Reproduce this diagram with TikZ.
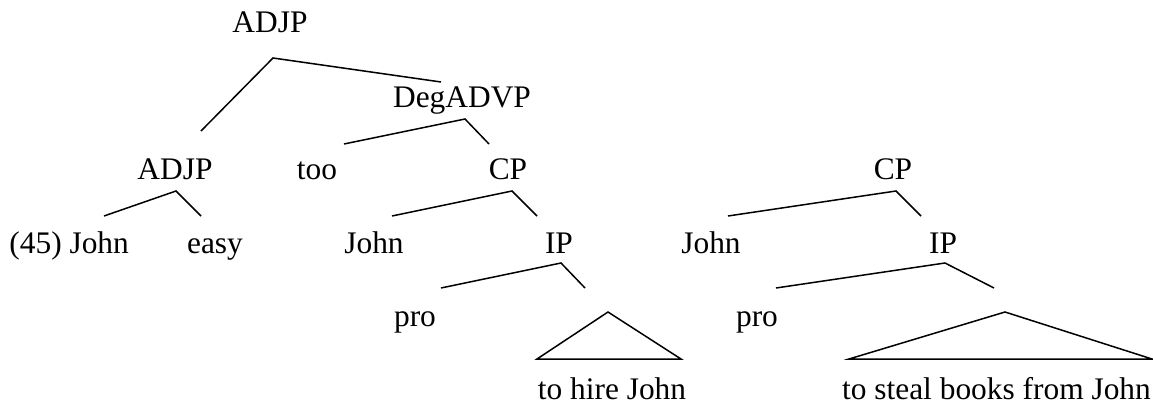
\documentclass[tikz,border=0pt]{standalone}
\usepackage{fontspec}
\setmainfont{Liberation Serif}
\begin{document}
\begin{tikzpicture}[x=0.5pt,y=-0.5pt,
  lbl/.style={anchor=base,inner sep=0pt,font=\fontsize{15.7}{18}\selectfont},
  branch/.style={line width=0.75pt,line join=miter,line cap=butt}]
\useasboundingbox (0,0) rectangle (1153,402);

% category labels and words
\node[lbl] (adjp)    at (270,32)  {ADJP};
\node[lbl] (degadvp) at (462,107) {DegADVP};
\node[lbl] (adjpb)   at (175,179) {ADJP};
\node[lbl] (too)     at (317,179) {too};
\node[lbl] (cpa)     at (508,179) {CP};
\node[lbl] (cpb)     at (893,179) {CP};
\node[lbl,anchor=base west] (exjohn) at (9,253) {(45) John};
\node[lbl] (easy)    at (215,253) {easy};
\node[lbl] (johna)   at (374,253) {John};
\node[lbl] (ipa)     at (559,253) {IP};
\node[lbl] (johnb)   at (711,253) {John};
\node[lbl] (ipb)     at (943,253) {IP};
\node[lbl] (proa)    at (415,326) {pro};
\node[lbl] (prob)    at (757,326) {pro};
\node[lbl] (hire)    at (612,399) {to hire John};
\node[lbl] (steal)   at (996.5,399) {to steal books from John};

% branch points
\coordinate (adjp-t) at (273,58);  \coordinate (adjp-l) at (201,131); \coordinate (adjp-r) at (441,82);
\coordinate (deg-t)  at (465,119); \coordinate (deg-l)  at (344,144); \coordinate (deg-r)  at (489,144);
\coordinate (adjpb-t) at (176,191); \coordinate (adjpb-l) at (104,216); \coordinate (adjpb-r) at (201,216);
\coordinate (cpa-t)  at (512,191); \coordinate (cpa-l)  at (392,216); \coordinate (cpa-r)  at (537,216);
\coordinate (cpb-t)  at (896,191); \coordinate (cpb-l)  at (728,216); \coordinate (cpb-r)  at (921,216);
\coordinate (ipa-t)  at (561,263); \coordinate (ipa-l)  at (441,288); \coordinate (ipa-r)  at (585,288);
\coordinate (ipb-t)  at (945,263); \coordinate (ipb-l)  at (776,288); \coordinate (ipb-r)  at (994,288);
\coordinate (tria-t) at (608,312); \coordinate (tria-l) at (537,359); \coordinate (tria-r) at (681,359);
\coordinate (trib-t) at (1005,312); \coordinate (trib-l) at (849,359); \coordinate (trib-r) at (1152,359);

% branches
\draw[branch] (adjp-l) -- (adjp-t) -- (adjp-r);
\draw[branch] (deg-l) -- (deg-t) -- (deg-r);
\draw[branch] (adjpb-l) -- (adjpb-t) -- (adjpb-r);
\draw[branch] (cpa-l) -- (cpa-t) -- (cpa-r);
\draw[branch] (cpb-l) -- (cpb-t) -- (cpb-r);
\draw[branch] (ipa-l) -- (ipa-t) -- (ipa-r);
\draw[branch] (ipb-l) -- (ipb-t) -- (ipb-r);

% triangles over unanalysed constituents
\draw[branch] (tria-l) -- (tria-t) -- (tria-r) -- cycle;
\draw[branch] (trib-l) -- (trib-t) -- (trib-r) -- cycle;
\end{tikzpicture}
\end{document}
